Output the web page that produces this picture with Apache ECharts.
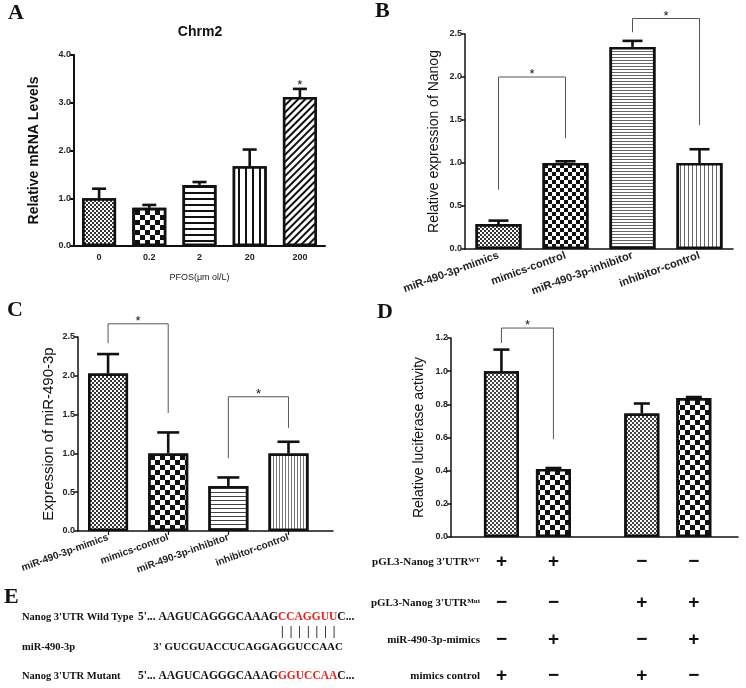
<!DOCTYPE html>
<html><head><meta charset="utf-8">
<script src="https://cdn.jsdelivr.net/npm/echarts@6/dist/echarts.min.js"></script>
<style>html,body{margin:0;padding:0;background:#fff}#c{width:746px;height:688px}</style>
</head><body><div id="c"></div>
<script>
// ---------- DATA ----------
// Panel A
const aTitle = 'Chrm2';
const aCategories = ['0', '0.2', '2', '20', '200'];
const aValues = [1.0, 0.8, 1.28, 1.67, 3.12];
const aErrors = [0.2, 0.06, 0.06, 0.35, 0.17];
const aStars = [[4, 3.45]];
// Panel B
const bCategories = ['miR-490-3p-mimics', 'mimics-control', 'miR-490-3p-inhibitor', 'inhibitor-control'];
const bValues = [0.29, 1.0, 2.35, 1.0];
const bErrors = [0.04, 0.02, 0.07, 0.16];
const bBrackets = [[0, 1, 0.69, 2.0, 1.29], [2, 3, 2.52, 2.68, 1.44]];
// Panel C
const cCategories = ['miR-490-3p-mimics', 'mimics-control', 'miR-490-3p-inhibitor', 'inhibitor-control'];
const cValues = [2.03, 1.0, 0.58, 1.0];
const cErrors = [0.25, 0.27, 0.11, 0.15];
const cBrackets = [[0, 1, 2.42, 2.67, 1.52], [2, 3, 0.94, 1.73, 1.33]];
// Panel D
const dValues = [1.0, 0.41, 0.745, 0.838];
const dErrors = [0.13, 0.006, 0.06, 0.006];
const dBrackets = [[0, 1, 1.17, 1.26, 0.59]];
const dRowWT = ['+', '+', '\u2212', '\u2212'];
const dRowMut = ['\u2212', '\u2212', '+', '+'];
const dRowMimics = ['\u2212', '+', '\u2212', '+'];
const dRowControl = ['+', '\u2212', '+', '\u2212'];
// Axis ticks [min, max, interval]
const aYTicks = [0, 4, 1];
const bYTicks = [0, 2.5, 0.5];
const cYTicks = [0, 2.5, 0.5];
const dYTicks = [0, 1.2, 0.2];

// ---------- LAYOUT / STYLE ----------
const cPos = cValues.map((_, i) => i + 0.5);           // value-axis slot centres
const dPos = [0.97, 1.97, 3.67, 4.67];                 // two groups of bars
const SANS = 'Liberation Sans, Arial, sans-serif';
const SERIF = 'Liberation Serif, Times New Roman, serif';

function checker(c, col) { return { symbol: 'rect', symbolSize: 1, dashArrayX: [[c, c], [0, c, c, 0]], dashArrayY: [c, 0], color: col || '#111', backgroundColor: '#fff' }; }
function hLines(s, t, col) { return { symbol: 'rect', symbolSize: 1, dashArrayX: [10, 0], dashArrayY: [t, s - t], color: col || '#111', backgroundColor: '#fff' }; }
function vLines(s, t, col) { return { symbol: 'rect', symbolSize: 1, dashArrayX: [t, s - t], dashArrayY: [10, 0], color: col || '#111', backgroundColor: '#fff' }; }
function dLines(s, t, col) { return Object.assign(hLines(s, t, col), { rotation: -Math.PI / 4 }); }

const aDecals = [checker(1.5, '#333'), checker(5), hLines(5, 1.2), vLines(5.5, 1.2), dLines(3.6, 1.2)];
const bDecals = [checker(1.5, '#333'), checker(4), hLines(3, 1, '#666'), vLines(3.6, 1, '#666')];
const cDecals = [checker(1.5, '#333'), checker(4.5), hLines(4, 1, '#444'), vLines(3, 1, '#777')];
const dDecals = [checker(1.5, '#444'), checker(4.3), checker(1.5, '#444'), checker(4.3)];

function barSeries(idx, values, decals, xs, width) {
  return {
    type: 'bar', xAxisIndex: idx, yAxisIndex: idx, barWidth: width, z: 2,
    data: values.map((v, i) => ({ value: xs ? [xs[i], v] : v, itemStyle: { decal: decals[i] } })),
    itemStyle: { color: '#fff', borderColor: '#111', borderWidth: 2.6 },
    emphasis: { disabled: true }, silent: true
  };
}
function errSeries(idx, values, errs, xs, cap) {
  return {
    type: 'custom', xAxisIndex: idx, yAxisIndex: idx, clip: false, z: 5, silent: true,
    data: values.map((v, i) => [xs ? xs[i] : i, v, errs[i]]),
    renderItem(p, api) {
      const x = api.value(0), v = api.value(1), e = api.value(2);
      const p0 = api.coord([x, v]), p1 = api.coord([x, v + e]);
      const st = { stroke: '#111', lineWidth: 2.6 };
      return { type: 'group', children: [
        { type: 'line', shape: { x1: p0[0], y1: p0[1], x2: p1[0], y2: p1[1] }, style: st },
        { type: 'line', shape: { x1: p1[0] - cap, y1: p1[1], x2: p1[0] + cap, y2: p1[1] }, style: st }
      ] };
    }
  };
}
function bracketSeries(idx, brackets, xs) {
  return {
    type: 'custom', xAxisIndex: idx, yAxisIndex: idx, clip: false, z: 6, silent: true,
    data: brackets.map(b => [xs ? xs[b[0]] : b[0], xs ? xs[b[1]] : b[1], b[2], b[3], b[4]]),
    renderItem(p, api) {
      const x1 = api.value(0), x2 = api.value(1);
      const a = api.coord([x1, api.value(2)]), t1 = api.coord([x1, api.value(3)]);
      const t2 = api.coord([x2, api.value(3)]), c = api.coord([x2, api.value(4)]);
      return { type: 'group', children: [
        { type: 'polyline', shape: { points: [a, t1, t2, c] }, style: { stroke: '#555', lineWidth: 1, fill: null } },
        { type: 'text', x: (t1[0] + t2[0]) / 2, y: t1[1] + 4, style: { text: '*', font: '13px ' + SANS, fill: '#111', align: 'center', verticalAlign: 'bottom' } }
      ] };
    }
  };
}
function starSeries(idx, stars) {
  return {
    type: 'custom', xAxisIndex: idx, yAxisIndex: idx, clip: false, z: 6, silent: true,
    data: stars,
    renderItem(p, api) {
      const c = api.coord([api.value(0), api.value(1)]);
      return { type: 'text', x: c[0], y: c[1] + 4, style: { text: '*', font: '13px ' + SANS, fill: '#111', align: 'center', verticalAlign: 'middle' } };
    }
  };
}
function signSeries(idx, xs, rows, offsets) {
  const data = [];
  rows.forEach((row, r) => row.forEach((s, i) => data.push([xs[i], r])));
  return {
    type: 'custom', xAxisIndex: idx, yAxisIndex: idx, clip: false, z: 6, silent: true,
    data: data,
    renderItem(p, api) {
      const r = api.value(1);
      const i = p.dataIndex % rows[0].length;
      const c = api.coord([api.value(0), 0]);
      return { type: 'text', x: c[0], y: c[1] + offsets[r], style: { text: rows[r][i], font: 'bold 19px ' + SANS, fill: '#111', align: 'center', verticalAlign: 'middle' } };
    }
  };
}
function yAxis(idx, t, name, gap, nameFont, lw) {
  return {
    type: 'value', gridIndex: idx, min: t[0], max: t[1], interval: t[2],
    axisLine: { show: true, lineStyle: { color: '#111', width: lw } },
    axisTick: { show: true, length: 4, lineStyle: { color: '#111', width: lw } },
    axisLabel: { fontSize: 9, fontWeight: 'bold', color: '#222', fontFamily: SANS, margin: 3, formatter: v => v.toFixed(1) },
    splitLine: { show: false },
    name: name, nameLocation: 'middle', nameGap: gap,
    nameTextStyle: Object.assign({ color: '#111', fontFamily: SANS }, nameFont)
  };
}
const catLabel = (fs) => ({ rotate: 20, fontSize: fs, fontWeight: 'bold', color: '#222', fontFamily: SANS, margin: 6 });
const lbl = (x, y, text, font, extra) => ({ type: 'text', x: x, y: y, style: Object.assign({ text: text, font: font, fill: '#111', verticalAlign: 'middle' }, extra || {}) });
const sup = { s: { font: 'bold 7px ' + SERIF, fill: '#111', verticalAlign: 'top' } };
const red = { r: { font: 'bold 11.5px ' + SERIF, fill: '#e8231c' } };

const option = {
  backgroundColor: '#fff',
  animation: false,
  grid: [
    { left: 74, top: 55, width: 251, height: 191 },
    { left: 465, top: 34, width: 268, height: 215 },
    { left: 78, top: 337, width: 255, height: 194 },
    { left: 451, top: 338, width: 287, height: 199 }
  ],
  xAxis: [
    { type: 'category', gridIndex: 0, data: aCategories,
      axisLine: { lineStyle: { color: '#111', width: 2 } },
      axisTick: { alignWithLabel: true, length: 4, lineStyle: { color: '#111', width: 1.5 } },
      axisLabel: { fontSize: 9, fontWeight: 'bold', color: '#222', fontFamily: SANS, margin: 7 },
      name: 'PFOS(\u03bcm ol/L)', nameLocation: 'middle', nameGap: 27,
      nameTextStyle: { fontSize: 9, color: '#222', fontFamily: SANS } },
    { type: 'category', gridIndex: 1, data: bCategories,
      axisLine: { lineStyle: { color: '#111', width: 1.5 } },
      axisTick: { alignWithLabel: true, length: 4, lineStyle: { color: '#111', width: 1.2 } },
      axisLabel: catLabel(11) },
    { type: 'value', gridIndex: 2, min: 0, max: 4.24, splitLine: { show: false },
      axisLine: { show: true, lineStyle: { color: '#111', width: 1.5 } },
      axisTick: { show: true, customValues: cPos, length: 4, lineStyle: { color: '#111', width: 1.2 } },
      axisLabel: Object.assign(catLabel(10), { customValues: cPos, formatter: v => cCategories[Math.floor(v)] || '' }) },
    { type: 'value', gridIndex: 3, min: 0, max: 5.52, splitLine: { show: false },
      axisLine: { show: true, lineStyle: { color: '#111', width: 1.5 } },
      axisTick: { show: false }, axisLabel: { show: false } }
  ],
  yAxis: [
    yAxis(0, aYTicks, 'Relative mRNA Levels', 33, { fontSize: 14, fontWeight: 'bold' }, 2),
    yAxis(1, bYTicks, 'Relative expression of Nanog', 24, { fontSize: 14 }, 1.5),
    yAxis(2, cYTicks, 'Expression of miR-490-3p', 22, { fontSize: 15 }, 1.5),
    yAxis(3, dYTicks, 'Relative luciferase activity', 25, { fontSize: 14 }, 1.5)
  ],
  series: [
    barSeries(0, aValues, aDecals, null, 34),
    errSeries(0, aValues, aErrors, null, 7),
    starSeries(0, aStars),
    barSeries(1, bValues, bDecals, null, 46),
    errSeries(1, bValues, bErrors, null, 10),
    bracketSeries(1, bBrackets, null),
    barSeries(2, cValues, cDecals, cPos, 40),
    errSeries(2, cValues, cErrors, cPos, 11),
    bracketSeries(2, cBrackets, cPos),
    barSeries(3, dValues, dDecals, dPos, 35),
    errSeries(3, dValues, dErrors, dPos, 8),
    bracketSeries(3, dBrackets, dPos),
    signSeries(3, dPos, [dRowWT, dRowMut, dRowMimics, dRowControl], [25, 66, 103, 139])
  ],
  graphic: [
    lbl(8, 13, 'A', 'bold 22px ' + SERIF),
    lbl(375, 11, 'B', 'bold 22px ' + SERIF),
    lbl(7, 310, 'C', 'bold 22px ' + SERIF),
    lbl(377, 312, 'D', 'bold 22px ' + SERIF),
    lbl(4, 597, 'E', 'bold 22px ' + SERIF),
    lbl(200, 32, aTitle, 'bold 14px ' + SANS, { align: 'center' }),
    // table row labels (panel D)
    lbl(480, 562, "pGL3-Nanog 3'UTR{s|WT}", 'bold 11px ' + SERIF, { align: 'right', rich: sup }),
    lbl(480, 603, "pGL3-Nanog 3'UTR{s|Mut}", 'bold 11px ' + SERIF, { align: 'right', rich: sup }),
    lbl(480, 640, 'miR-490-3p-mimics', 'bold 11px ' + SERIF, { align: 'right' }),
    lbl(480, 676, 'mimics control', 'bold 11px ' + SERIF, { align: 'right' }),
    // panel E
    lbl(22, 617, "Nanog 3'UTR Wild Type", 'bold 10.5px ' + SERIF),
    lbl(22, 647, 'miR-490-3p', 'bold 10.5px ' + SERIF),
    lbl(22, 676, "Nanog 3'UTR Mutant", 'bold 10.5px ' + SERIF),
    lbl(138, 617, "5'... AAGUCAGGGCAAAG{r|CCAGGUU}C...", 'bold 11.5px ' + SERIF, { rich: red }),
    lbl(281, 632, '|  |  |  |  |  |  |', 'bold 12px ' + SERIF),
    lbl(343, 647, "3' GUCGUACCUCAGGAGGUCCAAC", 'bold 11px ' + SERIF, { align: 'right' }),
    lbl(138, 676, "5'... AAGUCAGGGCAAAG{r|GGUCCAA}C...", 'bold 11.5px ' + SERIF, { rich: red })
  ]
};
const chart = echarts.init(document.getElementById('c'), null, { renderer: 'canvas' });
chart.setOption(option);
</script>
</body></html>
